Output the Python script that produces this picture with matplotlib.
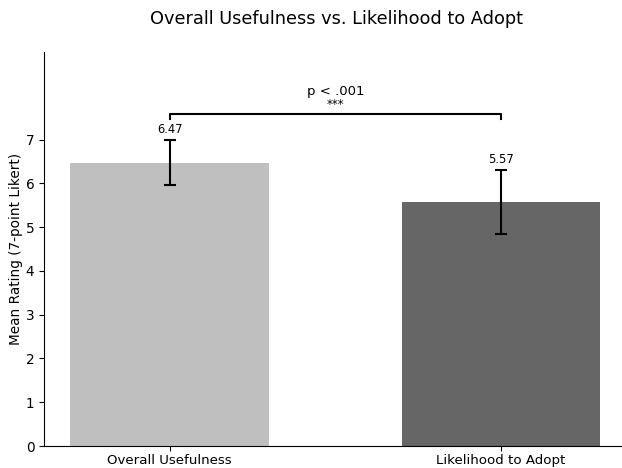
import matplotlib
matplotlib.use("Agg")
import matplotlib.pyplot as plt

# Données
categories = ["Overall Usefulness", "Likelihood to Adopt"]
moyennes = [6.47, 5.57]
erreurs = [0.51, 0.73]
couleurs = ["#bfbfbf", "#666666"]
texte_p = "p < .001"
etoiles = "***"

fig = plt.figure(figsize=(6.22, 4.68), dpi=100)
ax = fig.add_axes([44 / 622, 22 / 468, 584 / 622, (446 - 52) / 468])

positions = list(range(len(categories)))
ax.bar(positions, moyennes, width=0.6, color=couleurs, yerr=erreurs,
       capsize=4, error_kw={"elinewidth": 1.5, "capthick": 1.5, "ecolor": "black"})

# Étiquettes des valeurs
for x, m, e in zip(positions, moyennes, erreurs):
    ax.text(x, m + e + 0.1, f"{m:.2f}", ha="center", va="bottom", fontsize=8.3)

# Crochet de significativité
h = max(m + e for m, e in zip(moyennes, erreurs)) + 0.6
ax.plot([0, 0, 1, 1], [h - 0.11, h, h, h - 0.11], color="black", linewidth=1.5)
ax.text(0.5, h + 0.07, etoiles, ha="center", va="bottom", fontsize=8.6)
ax.text(0.5, h + 0.38, texte_p, ha="center", va="bottom", fontsize=9.5)

ax.set_xlim(-0.38, 1.384)
ax.set_ylim(0, 9)
ax.set_yticks(range(0, 8))
ax.set_xticks(positions)
ax.set_xticklabels(categories)
ax.tick_params(axis="x", labelsize=9.6, pad=2.5)
ax.tick_params(axis="y", labelsize=9.8)
ax.set_ylabel("Mean Rating (7-point Likert)", fontsize=9.8, labelpad=2)
ax.spines["top"].set_visible(False)
ax.spines["right"].set_visible(False)

ax.set_title("Overall Usefulness vs. Likelihood to Adopt", fontsize=12.8, pad=20)

fig.savefig("out.png", dpi=100)
